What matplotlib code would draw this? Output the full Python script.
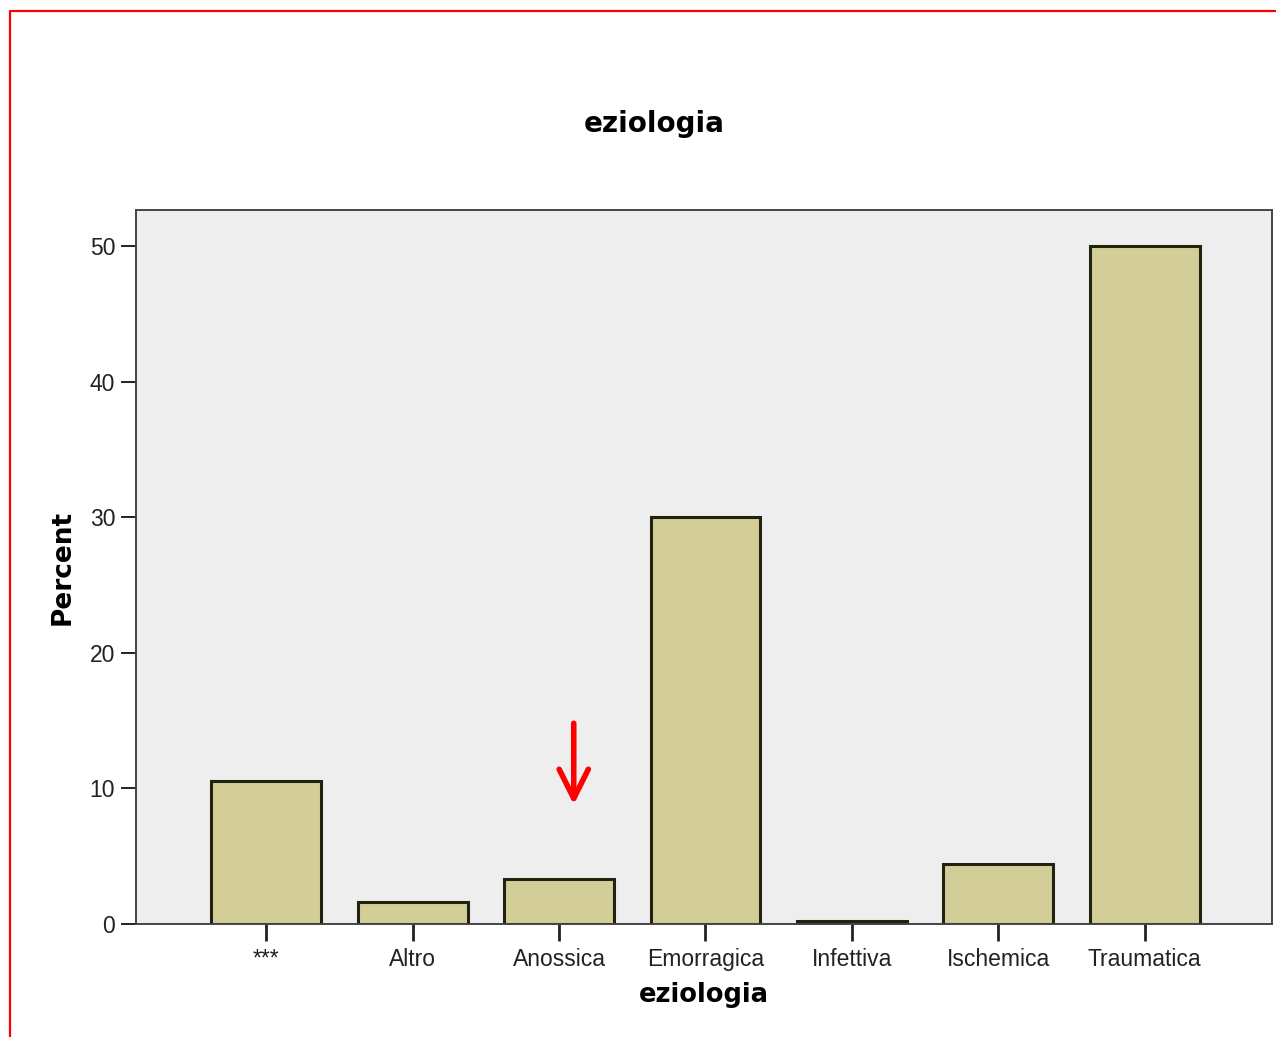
import numpy as np
import matplotlib
matplotlib.use("Agg")
import matplotlib.pyplot as plt
from matplotlib.lines import Line2D

# values
categories = ["***", "Altro", "Anossica", "Emorragica", "Infettiva", "Ischemica", "Traumatica"]
percent = [10.55, 1.6, 3.3, 30.0, 0.2, 4.4, 50.0]
yticks = [0, 10, 20, 30, 40, 50]

fig = plt.figure(figsize=(12.76, 10.37), dpi=100)
ax = fig.add_axes([0.1066, 0.109, 0.8903, 0.6885])
ax.set_facecolor("#EEEEEE")

x = np.arange(len(categories))
ax.bar(x, percent, width=0.75, color="#D3CE97", edgecolor="#222211", linewidth=2.2, zorder=2)

ax.set_xlim(-0.89, 6.87)
ax.set_ylim(0, 52.65)
ax.set_xticks(x)
ax.set_xticklabels(categories)
ax.set_yticks(yticks)
ax.tick_params(axis="both", direction="out", length=11, width=1.4, labelsize=16.5, colors="#222222", pad=4)
ax.tick_params(axis="x", length=12, width=2, pad=5)
for lab in ax.get_xticklabels() + ax.get_yticklabels():
    lab.set_fontfamily("Liberation Sans")

for s in ax.spines.values():
    s.set_color("#444444")
    s.set_linewidth(1.4)

ax.set_ylabel("Percent", fontsize=19, fontweight="bold", labelpad=10)
ax.set_xlabel("eziologia", fontsize=18.5, fontweight="bold", labelpad=8)
fig.text(0.513, 0.88, "eziologia", ha="center", va="center", fontsize=20, fontweight="bold")

# red arrow pointing at Anossica
ax.annotate("", xy=(2.1, 8.8), xytext=(2.1, 14.8),
            arrowprops=dict(arrowstyle="->,head_width=0.35,head_length=0.7", color="red", lw=4,
                            mutation_scale=30, shrinkA=0, shrinkB=0), zorder=3)

# red frame
fig.add_artist(Line2D([0.0078, 0.0078, 1.0], [0.0, 0.9894, 0.9894],
                      transform=fig.transFigure, color="red", lw=1.6))

fig.savefig("out.png", dpi=100)
